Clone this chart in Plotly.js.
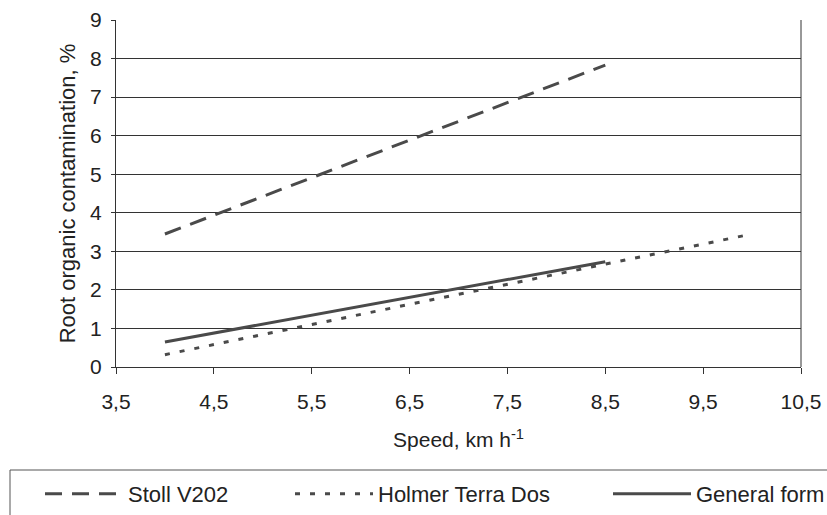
<!DOCTYPE html>
<html><head><meta charset="utf-8">
<script src="https://cdn.plot.ly/plotly-3.0.1.min.js"></script>
<style>html,body{margin:0;padding:0;background:#fff;}#chart{width:827px;height:515px;}</style>
</head><body><div id="chart"></div>
<script>
const speedStoll = [4, 8.5];
const stoll = [3.45, 7.83];
const speedHolmer = [4, 10];
const holmer = [0.32, 3.45];
const speedGeneral = [4, 8.5];
const general = [0.65, 2.73];
const xTicks = [3.5, 4.5, 5.5, 6.5, 7.5, 8.5, 9.5, 10.5];
const yTicks = [0,1,2,3,4,5,6,7,8,9];

const lineColor = '#4a4a4a';
const traces = [
  {x: speedStoll, y: stoll, name: 'Stoll V202', mode: 'lines', legend: 'legend',
   line: {color: lineColor, width: 3, dash: '17px,10px'}},
  {x: speedHolmer, y: holmer, name: 'Holmer Terra Dos', mode: 'lines', legend: 'legend2',
   line: {color: lineColor, width: 3, dash: '5px,10px'}},
  {x: speedGeneral, y: general, name: 'General form', mode: 'lines', legend: 'legend3',
   line: {color: lineColor, width: 3}}
];
const font = {family: 'Liberation Sans, Arial, sans-serif', color: '#222', size: 21};
// plot area: x 116..801, y 20..367
const L = 116, W = 685, T = 20, H = 347;
const px = v => (v - L) / W;
const py = v => (T + H - v) / H;
function leg(xPix) {
  return {orientation: 'h', x: px(xPix), xanchor: 'left', y: py(494), yanchor: 'middle',
    borderwidth: 0, bgcolor: 'rgba(0,0,0,0)', font: {size: 22}, itemwidth: 78};
}
const layout = {
  width: 827, height: 515,
  margin: {l: L, r: 827 - L - W, t: T, b: 515 - T - H, autoexpand: false},
  paper_bgcolor: '#fff', plot_bgcolor: '#fff',
  separators: ',.',
  font: font,
  showlegend: true,
  xaxis: {
    range: [3.5, 10.5], tickvals: xTicks, tickformat: '.1f',
    showgrid: false, zeroline: false,
    showline: true, linecolor: '#333', linewidth: 1,
    ticks: 'outside', ticklen: 6, tickcolor: '#333',
    tickfont: {size: 21}, ticklabelstandoff: 10,
    title: {text: 'Speed, km h<sup>-1</sup>', font: {size: 21}, standoff: 20}
  },
  yaxis: {
    range: [0, 9], tickvals: yTicks,
    showgrid: true, gridcolor: '#333', gridwidth: 1, zeroline: false,
    showline: true, linecolor: '#333', linewidth: 1,
    ticks: 'outside', ticklen: 4, tickcolor: '#333',
    tickfont: {size: 21}, ticklabelstandoff: 5,
    title: {text: 'Root organic contamination, %', font: {size: 22}, standoff: 8}
  },
  shapes: [
    {type: 'line', xref: 'paper', yref: 'paper', x0: 1, x1: 1, y0: 0, y1: 1,
     line: {color: '#333', width: 1}},
    {type: 'rect', xref: 'paper', yref: 'paper', x0: px(10), x1: px(840), y0: py(470), y1: py(540),
     line: {color: '#555', width: 1}, fillcolor: 'rgba(0,0,0,0)'}
  ],
  legend: leg(40),
  legend2: leg(290),
  legend3: leg(608)
};
Plotly.newPlot('chart', traces, layout, {displayModeBar: false, staticPlot: true});
</script></body></html>
